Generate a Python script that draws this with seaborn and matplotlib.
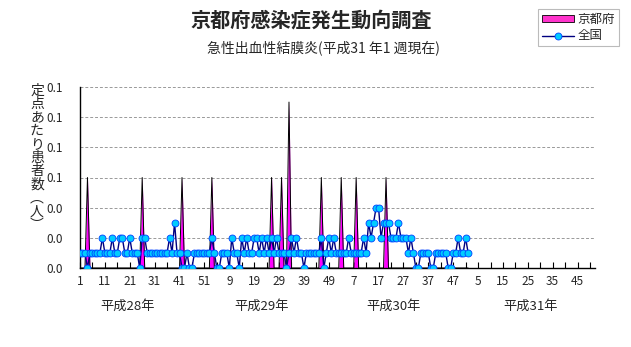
import matplotlib
matplotlib.use("Agg")
import matplotlib.pyplot as plt
import matplotlib.transforms as mtransforms
import numpy as np
import pandas as pd
import seaborn as sns

# ---------------- data ----------------
# Kyoto prefecture, per-sentinel cases, weeks of H28 (2016), H29, H30, H31
kyoto_h28 = [0, 0, 0, 0.06, 0, 0, 0, 0, 0, 0,
             0, 0, 0, 0, 0, 0, 0, 0, 0, 0,
             0, 0, 0, 0, 0, 0.06, 0, 0, 0, 0,
             0, 0, 0, 0, 0, 0, 0, 0, 0, 0,
             0, 0.06, 0, 0, 0, 0, 0, 0, 0, 0,
             0, 0]
kyoto_h29 = [0, 0.06, 0, 0, 0, 0, 0, 0, 0, 0,
             0, 0, 0, 0, 0, 0, 0, 0, 0, 0,
             0, 0, 0, 0, 0, 0.06, 0, 0, 0, 0.06,
             0, 0, 0.11, 0, 0, 0, 0, 0, 0, 0,
             0, 0, 0, 0, 0, 0.06, 0, 0, 0, 0,
             0, 0]
kyoto_h30 = [0, 0.06, 0, 0, 0, 0, 0, 0.06, 0, 0,
             0, 0, 0, 0, 0, 0, 0, 0, 0, 0.06,
             0, 0, 0, 0, 0, 0, 0, 0, 0, 0,
             0, 0, 0, 0, 0, 0, 0, 0, 0, 0,
             0, 0, 0, 0, 0, 0, 0, 0, 0, 0,
             0, 0]
kyoto_h31 = [0]

national_h28 = [0.01, 0.01, 0.01, 0.00, 0.01, 0.01, 0.01, 0.01, 0.01, 0.02,
                0.01, 0.01, 0.01, 0.02, 0.01, 0.01, 0.02, 0.02, 0.01, 0.01,
                0.02, 0.01, 0.01, 0.01, 0.00, 0.02, 0.02, 0.01, 0.01, 0.01,
                0.01, 0.01, 0.01, 0.01, 0.01, 0.01, 0.02, 0.01, 0.03, 0.01,
                0.01, 0.00, 0.00, 0.01, 0.00, 0.00, 0.01, 0.01, 0.01, 0.01,
                0.01, 0.01]
national_h29 = [0.01, 0.02, 0.01, 0.00, 0.00, 0.01, 0.01, 0.01, 0.00, 0.02,
                0.01, 0.01, 0.00, 0.02, 0.01, 0.02, 0.01, 0.01, 0.02, 0.02,
                0.01, 0.02, 0.01, 0.02, 0.01, 0.02, 0.01, 0.02, 0.01, 0.01,
                0.01, 0.00, 0.01, 0.02, 0.01, 0.02, 0.01, 0.01, 0.00, 0.01,
                0.01, 0.01, 0.01, 0.01, 0.01, 0.02, 0.00, 0.01, 0.02, 0.01,
                0.02, 0.01]
national_h30 = [0.01, 0.01, 0.01, 0.01, 0.02, 0.01, 0.01, 0.01, 0.01, 0.01,
                0.02, 0.01, 0.03, 0.02, 0.03, 0.04, 0.04, 0.02, 0.03, 0.03,
                0.03, 0.02, 0.02, 0.02, 0.03, 0.02, 0.02, 0.02, 0.01, 0.02,
                0.01, 0.00, 0.00, 0.01, 0.01, 0.01, 0.01, 0.00, 0.00, 0.01,
                0.01, 0.01, 0.01, 0.01, 0.00, 0.00, 0.01, 0.01, 0.02, 0.01,
                0.01, 0.02]
national_h31 = [0.01]

week_tick_labels = ["1", "11", "21", "31", "41", "51", "9", "19", "29", "39", "49",
                    "7", "17", "27", "37", "47", "5", "15", "25", "35", "45"]
year_labels = ["平成28年", "平成29年", "平成30年", "平成31年"]
weeks_per_year = 52
n_years = 4

# --------------- build table ---------------
kyoto = kyoto_h28 + kyoto_h29 + kyoto_h30 + kyoto_h31
national = national_h28 + national_h29 + national_h30 + national_h31
df = pd.DataFrame({"week_index": np.arange(1, len(national) + 1),
                   "京都府": kyoto, "全国": national})

# --------------- style ---------------
sns.set_style("white")
plt.rcParams["font.family"] = ["Noto Sans CJK JP", "DejaVu Sans"]

W, H = 631, 347
fig = plt.figure(figsize=(W / 100, H / 100), dpi=100)
ax = fig.add_axes([80 / W, 1 - 268 / H, 515 / W, 181 / H])

ax.fill_between(df["week_index"], 0, df["京都府"], color="#FF00FF", lw=0, zorder=2)
sns.lineplot(data=df, x="week_index", y="京都府", color="black", lw=0.7,
             ax=ax, legend=False, zorder=3)
sns.lineplot(data=df, x="week_index", y="全国", color="#000080", lw=1.0,
             marker="o", markersize=5, markerfacecolor="#00CCFF",
             markeredgecolor="#0040FF", markeredgewidth=0.6,
             ax=ax, legend=False, zorder=4)

total = weeks_per_year * n_years
ax.set_xlim(1, total)
ax.set_ylim(0, 0.12)

yt = np.arange(0, 0.121, 0.02)
ax.set_yticks(yt)
ax.set_yticklabels([f"{v:.1f}" for v in yt], fontsize=8.5)
ax.yaxis.grid(True, color="#999999", linestyle=(0, (3, 2)), lw=0.7)
ax.xaxis.grid(False)

xt = np.arange(1, total, 10)[:len(week_tick_labels)]
ax.set_xticks(xt)
ax.set_xticklabels(week_tick_labels, fontsize=8.5)
ax.set_xticks(np.arange(1, total + 1, 5), minor=True)
ax.tick_params(axis="x", which="both", direction="in", length=4, width=0.8,
               color="black", pad=5, bottom=True)
ax.tick_params(axis="y", which="both", direction="out", length=0, pad=12,
               left=True)

for s in ["top", "right"]:
    ax.spines[s].set_visible(False)
for s in ["left", "bottom"]:
    ax.spines[s].set_color("black")
    ax.spines[s].set_linewidth(1.0)
ax.set_xlabel("")
ax.set_ylabel("")

trans = mtransforms.blended_transform_factory(ax.transData, ax.transAxes)
year_label_pos = [20, 74, 127, 182]
for pos, lab in zip(year_label_pos, year_labels):
    ax.text(pos, -0.21, lab, transform=trans, ha="center", va="center",
            fontsize=9.5)

fig.text(311 / W, 1 - 20 / H, "京都府感染症発生動向調査", ha="center",
         va="center", fontsize=14.5, fontweight="bold")
fig.text(323 / W, 1 - 48 / H, "急性出血性結膜炎(平成31 年1 週現在)",
         ha="center", va="center", fontsize=10)
fig.text(37 / W, 1 - 158 / H, "\n".join("定点あたり患者数︵人︶"),
         ha="center", va="center", fontsize=10, linespacing=0.95)

handles = [plt.Rectangle((0, 0), 1, 1, facecolor="#FF33CC", edgecolor="black", lw=0.6),
           plt.Line2D([], [], color="#000080", lw=1.0, marker="o", markersize=5,
                      markerfacecolor="#00CCFF", markeredgecolor="#0040FF",
                      markeredgewidth=0.6)]
leg = fig.legend(handles, ["京都府", "全国"], loc="upper right",
                 bbox_to_anchor=(619 / W, 1 - 9 / H), fontsize=9,
                 frameon=True, fancybox=False, handlelength=2.6,
                 handleheight=0.5, borderpad=0.3, labelspacing=0.3,
                 handletextpad=0.3, borderaxespad=0)
leg.get_frame().set_edgecolor("#AAAAAA")
leg.get_frame().set_linewidth(0.8)

fig.savefig("out.png", dpi=100)
